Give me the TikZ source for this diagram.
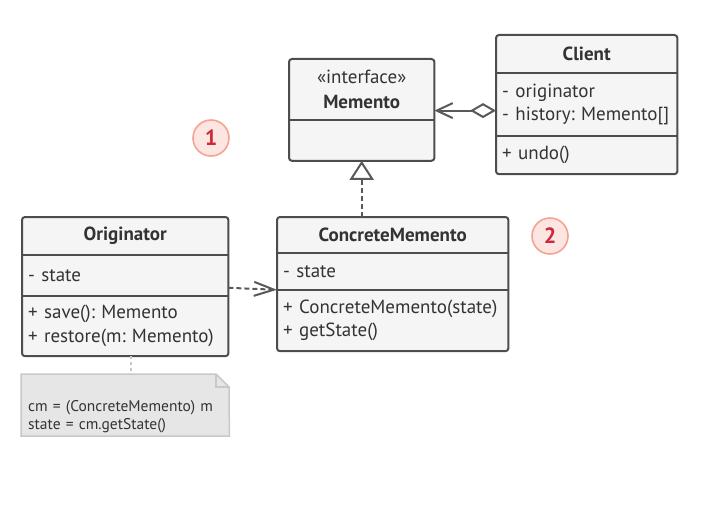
\documentclass[tikz,border=0pt]{standalone}
\usepackage{fontspec}
\setmainfont{PT Sans}[WordSpace=0.7]
\usetikzlibrary{positioning,arrows.meta,backgrounds}
\frenchspacing
\definecolor{linec}{HTML}{4D4D4D}
\definecolor{boxc}{HTML}{F5F5F5}
\definecolor{textc}{HTML}{333333}
\definecolor{arrc}{HTML}{595959}
\definecolor{notec}{HTML}{E6E6E6}
\definecolor{notel}{HTML}{C8C8C8}
\definecolor{badgef}{HTML}{FDE5E1}
\definecolor{badgel}{HTML}{F6A393}
\definecolor{badget}{HTML}{CC2A3A}
\tikzset{
  head/.style={text width=#1, inner xsep=6pt, inner ysep=0pt, align=center, text=textc,
    font=\fontsize{19}{25}\selectfont\bfseries},
  part/.style={text width=#1, inner xsep=6pt, inner ysep=0pt, align=left, text=textc,
    font=\fontsize{19}{23.5}\selectfont},
  frame/.style={draw=linec, fill=boxc, line width=2pt, rounded corners=3pt},
  divider/.style={draw=linec, line width=2pt},
  link/.style={draw=arrc, line width=2pt},
  badge/.style={circle, minimum size=36pt, inner sep=0pt, fill=badgef, draw=badgel,
    line width=1.6pt, text=badget, font=\fontsize{22}{22}\selectfont\bfseries}
}
\begin{document}
\begin{tikzpicture}[x=1pt,y=-1pt]
  \useasboundingbox (0,0) rectangle (723,519);

  \node[head=133pt, minimum height=61pt, anchor=north west] (mm-head) at (289,59)
    {{\mdseries «interface»}\\Memento};
  \node[part=133pt, minimum height=40pt, below=0pt of mm-head] (mm-body) {};

  \node[head=169pt, minimum height=38pt, anchor=north west] (cl-head) at (496,35) {Client};
  \node[part=169pt, minimum height=62pt, below=0pt of cl-head] (cl-attr)
    {- originator\\- history: Memento[]};
  \node[part=169pt, minimum height=38pt, below=0pt of cl-attr] (cl-ops) {+ undo()};

  \node[head=194pt, minimum height=38pt, anchor=north west] (or-head) at (22,217) {Originator};
  \node[part=194pt, minimum height=40pt, below=0pt of or-head] (or-attr) {- state};
  \node[part=194pt, minimum height=60pt, below=0pt of or-attr] (or-ops)
    {+ save(): Memento\\+ restore(m: Memento)};

  \node[head=219pt, minimum height=36pt, anchor=north west] (cm-head) at (277,217) {ConcreteMemento};
  \node[part=219pt, minimum height=36pt, below=0pt of cm-head] (cm-attr) {- state};
  \node[part=219pt, minimum height=61pt, below=0pt of cm-attr] (cm-ops)
    {+ ConcreteMemento(state)\\+ getState()};

  \begin{scope}[on background layer]
    \foreach \cls/\last in {mm/body,cl/ops,or/ops,cm/ops} {
      \draw[frame] (\cls-head.north west) rectangle (\cls-\last.south east);
      \draw[divider] (\cls-head.south west) -- (\cls-head.south east);
    }
    \foreach \cls in {cl,or,cm}
      \draw[divider] (\cls-attr.south west) -- (\cls-attr.south east);
  \end{scope}

  \node[part=194pt, inner xsep=7pt, inner ysep=2.5pt, anchor=south west,
    font=\fontsize{15.5}{18.5}\selectfont] (nt) at (21,436)
    {cm = (ConcreteMemento) m\\state = cm.getState()};
  \coordinate (nt-top) at (229,374);
  \begin{scope}[on background layer]
    \draw[fill=notec, draw=notel, line width=1.5pt]
      (nt.south west) -- (nt.south west |- nt-top) -- ([xshift=-13pt]nt-top)
      -- ([yshift=-13pt]nt-top) -- (nt.south east) -- cycle;
    \draw[draw=notel, line width=1.5pt]
      ([xshift=-13pt]nt-top) -- ([xshift=-13pt,yshift=-13pt]nt-top) -- ([yshift=-13pt]nt-top);
  \end{scope}
  \draw[draw=notel, line width=1.5pt, dash pattern=on 3pt off 3pt]
    ([xshift=6pt]or-ops.south) -- ([xshift=6pt]or-ops.south |- nt-top);

  \draw[link, {Diamond[open,length=26pt,width=15pt]}-{Straight Barb[length=16pt,width=15pt]}]
    ([yshift=-6pt]cl-attr.west) -- ([yshift=-6pt]cl-attr.west -| mm-head.east);
  \draw[link, dash pattern=on 5pt off 3pt, -{Triangle[open,length=19pt,width=24pt]}]
    (cm-head.north -| mm-body.south) -- (mm-body.south);
  \draw[link, dash pattern=on 5pt off 3pt, -{Straight Barb[length=20pt,width=14pt]}]
    (or-attr.south east) ++(0,-8) -- (cm-attr.south west);

  \node[badge] (b1) at (211,138) {1};
  \node[badge] (b2) at (550,236) {2};
\end{tikzpicture}
\end{document}
